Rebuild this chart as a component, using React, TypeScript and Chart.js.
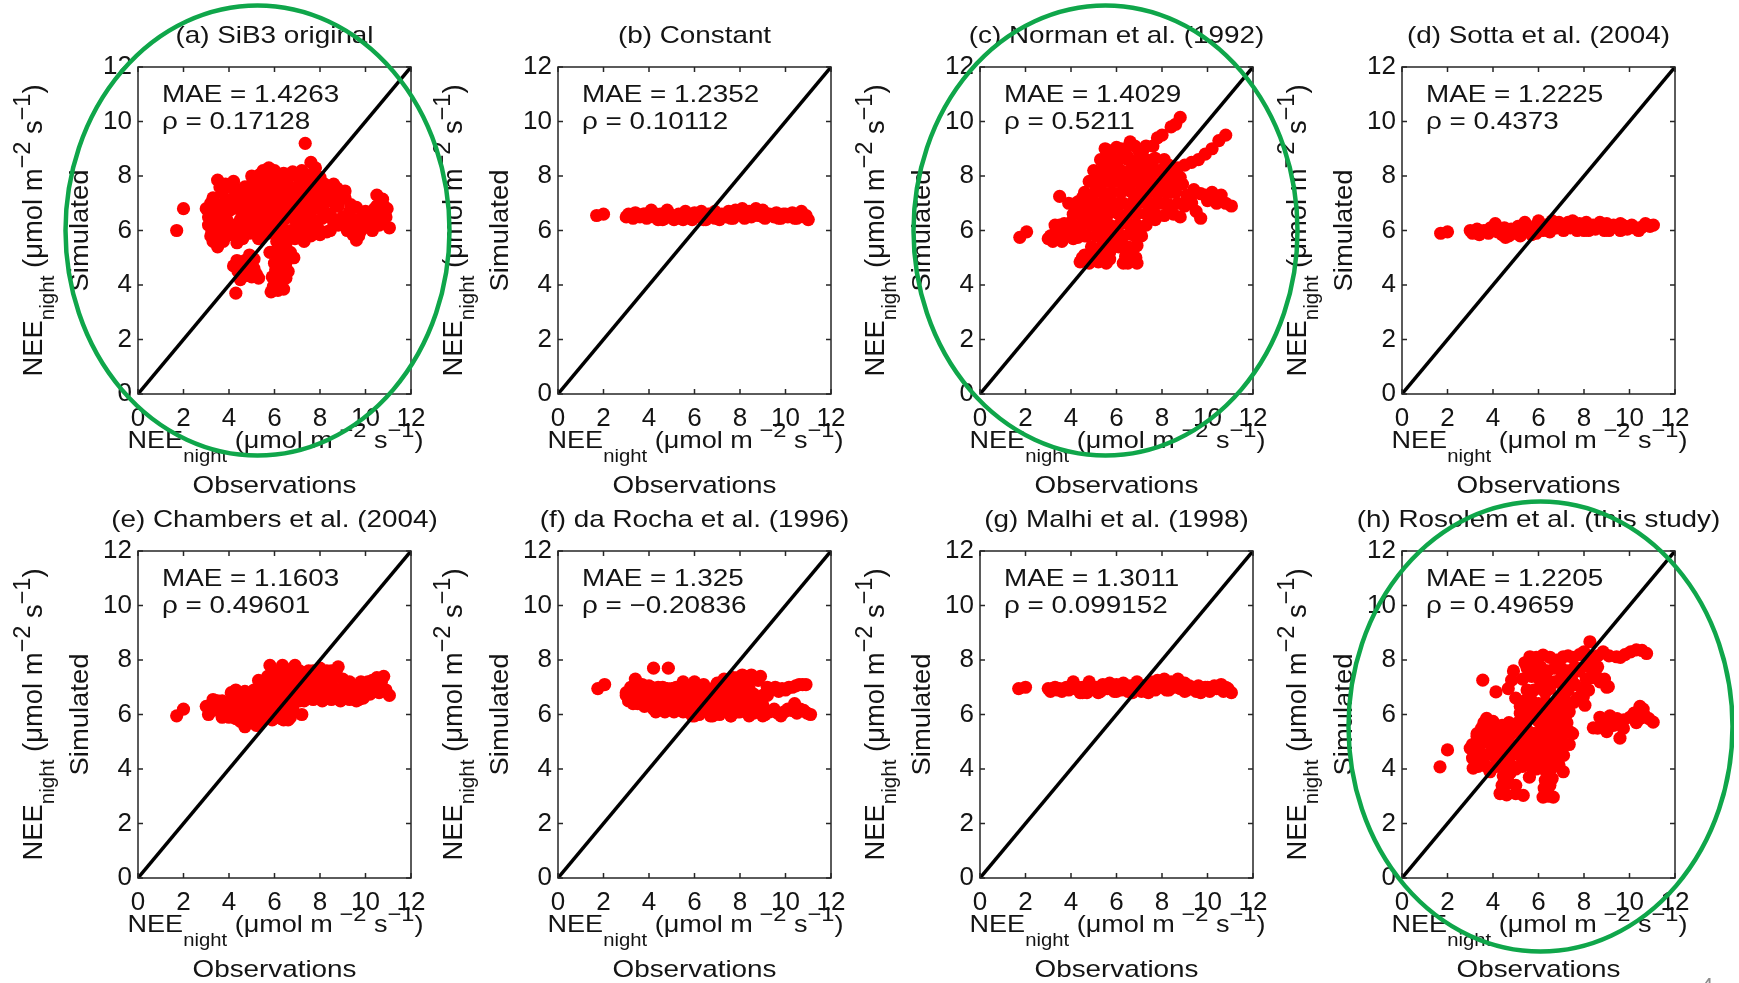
import React, { useEffect, useRef } from 'react';
import { Chart, registerables } from 'chart.js';

Chart.register(...registerables);

// ---------------- data ----------------
const axisMin = 0;
const axisMax = 12;
const tickValues = [0, 2, 4, 6, 8, 10, 12];
const diagonal = [0, 12];

const titles = [
  '(a) SiB3 original',
  '(b) Constant',
  '(c) Norman et al. (1992)',
  '(d) Sotta et al. (2004)',
  '(e) Chambers et al. (2004)',
  '(f) da Rocha et al. (1996)',
  '(g) Malhi et al. (1998)',
  '(h) Rosolem et al. (this study)',
];
const maeValues = ['1.4263', '1.2352', '1.4029', '1.2225', '1.1603', '1.325', '1.3011', '1.2205'];
const rhoValues = ['0.17128', '0.10112', '0.5211', '0.4373', '0.49601', '\u22120.20836', '0.099152', '0.49659'];
const circled = [true, false, true, false, false, false, false, true];

// [observed, simulated]
const simA: [number, number][] = [
  [1.7, 6.0], [2.0, 6.8], [7.35, 9.2],
  [3.0, 6.8], [3.1, 6.2], [3.2, 5.8], [3.3, 7.2], [3.5, 7.85], [3.4, 6.6], [3.5, 5.4], [3.6, 6.1], [3.7, 7.4], [3.8, 6.9], [3.9, 6.4], [4.0, 7.6], [4.1, 7.0], [4.2, 6.2], [3.3, 5.6], [3.9, 5.8], [4.35, 5.55], [4.4, 6.8], [4.5, 7.3], [3.6, 7.6],
  [3.2, 7.0], [3.35, 6.35], [3.55, 6.85], [3.7, 6.55], [3.75, 5.6], [3.85, 7.15], [4.0, 6.1], [4.05, 6.75], [4.25, 7.25], [4.2, 7.8], [3.85, 7.7], [4.3, 5.9], [3.1, 6.5], [3.5, 6.0], [3.25, 5.95], [4.6, 5.7], [3.6, 5.8], [3.4, 6.95],
  [5.2, 7.9], [5.5, 8.2], [5.75, 8.3], [6.0, 8.2], [6.4, 8.1], [6.8, 8.15], [7.2, 8.2], [7.6, 8.5], [7.8, 8.3],
  [5.0, 8.0], [5.35, 8.05], [5.65, 7.95], [6.2, 8.0], [6.6, 7.95], [7.0, 8.0], [7.4, 8.05], [7.7, 8.0], [8.0, 7.95],
  [4.7, 7.6], [5.0, 7.7], [5.4, 7.8], [5.9, 7.7], [6.3, 7.8], [6.7, 7.6], [7.1, 7.7], [7.5, 7.8], [7.9, 7.6], [8.2, 7.7],
  [4.4, 7.5], [4.8, 7.45], [5.15, 7.5], [5.5, 7.55], [5.8, 7.45], [6.2, 7.5], [6.55, 7.45], [6.9, 7.5], [7.25, 7.45], [7.6, 7.5], [8.0, 7.45], [8.4, 7.5], [8.75, 7.55], [9.1, 7.45],
  [4.6, 7.1], [4.9, 7.2], [5.3, 7.3], [5.7, 7.2], [6.1, 7.3], [6.5, 7.2], [6.9, 7.3], [7.3, 7.2], [7.7, 7.1], [8.1, 7.2], [8.5, 7.3], [8.9, 7.4],
  [4.4, 7.0], [4.75, 6.9], [5.1, 6.95], [5.45, 7.0], [5.8, 6.95], [6.2, 7.0], [6.6, 6.95], [7.0, 7.0], [7.4, 6.9], [7.8, 6.95], [8.2, 7.0], [8.6, 7.05], [9.35, 6.95],
  [4.8, 6.6], [5.2, 6.7], [5.6, 6.8], [6.0, 6.6], [6.4, 6.7], [6.8, 6.8], [7.2, 6.6], [7.6, 6.7], [8.0, 6.8], [8.4, 6.6], [8.8, 6.9], [9.1, 7.2],
  [3.4, 6.35], [4.5, 6.4], [4.9, 6.35], [5.3, 6.45], [5.7, 6.5], [6.1, 6.4], [6.5, 6.45], [6.9, 6.4], [7.3, 6.45], [7.7, 6.4], [8.1, 6.45], [8.5, 6.5], [8.9, 6.4], [9.3, 6.3], [9.7, 6.3], [10.0, 6.2], [10.3, 6.0], [10.7, 6.5],
  [4.7, 6.1], [5.1, 6.2], [5.5, 6.3], [5.9, 6.1], [6.3, 6.2], [6.7, 6.0], [7.1, 6.2], [7.5, 6.3], [7.9, 6.1], [8.3, 5.95],
  [4.9, 5.9], [5.3, 6.0], [5.7, 5.9], [6.1, 6.0], [6.5, 5.8], [6.9, 5.95], [7.3, 5.9], [7.7, 6.0], [8.0, 5.85],
  [5.3, 5.7], [6.1, 5.6], [6.5, 5.5], [6.9, 5.7], [7.3, 5.6], [7.6, 5.8],
  [4.3, 3.7], [4.2, 4.7], [4.4, 4.5], [4.5, 4.2], [4.7, 4.9], [4.9, 5.1], [5.1, 4.6], [5.3, 4.25], [5.0, 4.3], [5.85, 3.75], [5.9, 4.3], [6.0, 4.8], [6.2, 5.1], [6.4, 3.85], [6.5, 4.25], [6.5, 4.8], [6.2, 4.5], [5.8, 5.2], [6.7, 5.2],
  [4.35, 4.9], [4.6, 4.6], [4.8, 4.35], [4.85, 4.75], [5.1, 4.95], [5.2, 4.4], [4.5, 4.45],
  [5.95, 3.95], [6.05, 4.55], [6.3, 4.25], [6.35, 4.65], [6.6, 4.5], [6.3, 5.0], [6.05, 5.25], [6.45, 5.35], [6.85, 5.0], [6.15, 3.8],
  [8.6, 6.3], [9.0, 6.5], [9.3, 6.7], [9.6, 5.65], [9.8, 6.0], [9.9, 6.6], [10.2, 6.4], [10.5, 7.3], [10.4, 6.8], [10.6, 6.2], [10.8, 6.9], [10.9, 6.5], [11.05, 6.1], [9.5, 6.4], [8.6, 7.7], [9.0, 7.2], [8.7, 6.9], [8.45, 6.0], [9.2, 6.0],
  [8.8, 6.2], [9.1, 6.3], [9.4, 6.2], [9.45, 5.85], [9.7, 5.8], [10.0, 6.7], [10.3, 6.7], [10.6, 6.6], [10.75, 7.15], [10.95, 6.8], [10.2, 6.1], [9.6, 6.85], [10.5, 6.9],
];

const simB: [number, number][] = [
  [1.7, 6.55], [2.0, 6.6],
  [3.0, 6.5], [3.1, 6.6], [3.3, 6.45], [3.4, 6.65], [3.6, 6.5], [3.8, 6.6], [3.9, 6.45], [4.1, 6.75], [4.2, 6.5], [4.4, 6.4], [4.5, 6.6], [4.7, 6.45], [4.8, 6.75], [5.0, 6.55], [5.1, 6.4], [5.3, 6.6], [5.4, 6.45], [5.6, 6.7], [5.7, 6.5], [5.9, 6.4], [6.0, 6.65], [6.2, 6.5], [6.3, 6.7], [6.5, 6.4], [6.6, 6.6], [6.8, 6.5], [6.9, 6.7], [7.1, 6.4], [7.2, 6.6], [7.4, 6.5], [7.5, 6.7], [7.7, 6.45], [7.8, 6.75], [8.0, 6.6], [8.1, 6.8], [8.2, 6.45], [8.4, 6.7], [8.5, 6.5], [8.7, 6.8], [8.8, 6.55], [9.0, 6.75], [9.1, 6.45], [9.3, 6.6], [9.5, 6.5], [9.6, 6.65], [9.8, 6.45], [9.9, 6.6], [10.1, 6.5], [10.3, 6.65], [10.4, 6.45], [10.6, 6.6], [10.7, 6.7], [10.8, 6.5], [11.0, 6.4],
  [3.2, 6.55], [3.5, 6.55], [3.75, 6.6], [4.0, 6.55], [4.3, 6.6], [4.6, 6.55], [4.9, 6.6], [5.2, 6.5], [5.5, 6.55], [5.8, 6.55], [6.1, 6.55], [6.4, 6.55], [6.7, 6.6], [7.0, 6.55], [7.3, 6.55], [7.6, 6.6], [7.9, 6.6], [8.3, 6.6], [8.6, 6.65], [8.9, 6.7], [9.2, 6.6], [9.4, 6.55], [9.7, 6.55], [10.0, 6.6], [10.2, 6.55], [10.5, 6.55], [10.9, 6.55],
  [4.6, 6.4], [5.5, 6.4], [6.4, 6.4], [6.9, 6.45], [7.6, 6.45], [8.3, 6.5], [9.0, 6.5], [9.7, 6.45], [10.5, 6.45],
];

const simC: [number, number][] = [
  [1.75, 5.75], [2.05, 5.95], [3.5, 7.25],
  [3.0, 5.7], [3.2, 5.6], [3.3, 5.9], [3.5, 6.2], [3.6, 5.6], [3.8, 5.9], [4.0, 6.3], [4.1, 5.7], [4.3, 6.0], [4.5, 6.5], [4.6, 5.8], [4.3, 6.9], [4.5, 7.2], [4.7, 6.9],
  [4.4, 4.85], [4.6, 5.1], [4.8, 4.8], [5.0, 5.3], [5.2, 4.85], [5.4, 5.6], [5.55, 4.8], [5.7, 5.2], [6.0, 5.5], [6.3, 4.8], [6.5, 4.8], [6.6, 5.25], [6.8, 5.4], [6.9, 4.8],
  [4.9, 6.3], [5.0, 6.9], [5.1, 7.5], [5.2, 8.0], [5.3, 6.0], [5.4, 8.5], [5.5, 7.2], [5.6, 6.6], [5.7, 8.8], [5.8, 7.8], [5.9, 6.1], [6.0, 8.3], [6.1, 7.0], [6.2, 9.0], [6.3, 6.4], [6.4, 7.6], [6.5, 8.7], [6.6, 9.25], [6.6, 5.9], [6.7, 8.0], [6.8, 7.2], [6.9, 6.6], [7.0, 8.9], [7.0, 6.0], [7.1, 7.7], [7.2, 8.4], [7.3, 9.1], [7.4, 6.9], [7.5, 7.9], [7.6, 8.6], [7.7, 6.4], [7.8, 7.4], [7.9, 8.2], [8.0, 9.5], [8.1, 7.0], [8.3, 8.0], [8.4, 7.4], [8.4, 9.8], [8.8, 10.15], [8.6, 9.9], [7.8, 9.4], [6.8, 9.1], [5.5, 9.0], [6.2, 5.6], [6.7, 6.2],
  [5.6, 8.95], [6.0, 9.05], [6.4, 9.0], [7.2, 9.0], [7.6, 9.1],
  [5.3, 8.6], [5.7, 8.55], [6.1, 8.6], [6.5, 8.6], [6.9, 8.55], [7.3, 8.6], [7.7, 8.65], [8.1, 8.6],
  [5.0, 8.2], [5.4, 8.15], [5.8, 8.2], [6.2, 8.2], [6.6, 8.2], [7.0, 8.15], [7.4, 8.2], [7.8, 8.2], [8.2, 8.25],
  [4.8, 7.8], [5.2, 7.75], [5.6, 7.8], [6.0, 7.8], [6.4, 7.85], [6.8, 7.8], [7.2, 7.8], [7.6, 7.75], [8.0, 7.8], [8.4, 7.85],
  [4.6, 7.4], [5.0, 7.35], [5.4, 7.4], [5.8, 7.4], [6.2, 7.4], [6.6, 7.45], [7.0, 7.4], [7.4, 7.4], [7.8, 7.35], [8.2, 7.4], [8.6, 7.4],
  [3.9, 7.0], [4.3, 7.05], [4.7, 7.0], [5.1, 7.0], [5.5, 6.95], [5.9, 7.0], [6.3, 7.0], [6.7, 7.0], [7.1, 7.05], [7.5, 7.0], [7.9, 7.0], [8.3, 6.95], [8.7, 7.0],
  [4.1, 6.6], [4.5, 6.65], [4.9, 6.6], [5.3, 6.6], [5.7, 6.65], [6.1, 6.6], [6.5, 6.6], [6.9, 6.65], [7.3, 6.6], [7.7, 6.6], [8.1, 6.55],
  [3.3, 6.2], [3.7, 6.25], [4.1, 6.2], [4.5, 6.2], [4.9, 6.2], [5.3, 6.25], [5.7, 6.2], [6.1, 6.2], [6.5, 6.25], [6.9, 6.2], [7.3, 6.2],
  [3.1, 5.8], [3.5, 5.85], [3.9, 5.8], [4.3, 5.75], [4.7, 5.8], [5.1, 5.8], [5.5, 5.85], [5.9, 5.8], [6.3, 5.8], [6.7, 5.85], [7.1, 5.8],
  [4.9, 5.4], [5.3, 5.35], [5.7, 5.45], [6.1, 5.4], [6.5, 5.4], [6.9, 5.45],
  [4.5, 5.0], [4.9, 5.05], [5.3, 5.0], [5.7, 4.95], [6.4, 5.05], [6.85, 5.0],
  [8.7, 8.3], [9.0, 8.4], [9.3, 8.5], [9.6, 8.6], [9.9, 8.8], [10.2, 9.0], [10.5, 9.3], [10.8, 9.5],
  [8.6, 7.6], [8.9, 7.7], [9.1, 7.3], [9.4, 7.5], [9.7, 7.35], [10.0, 7.1], [10.3, 7.2], [10.6, 7.3], [10.8, 7.0], [11.05, 6.9], [9.7, 6.45], [9.5, 6.7], [8.5, 6.6], [9.0, 6.9], [8.2, 7.6], [10.4, 7.0],
  [8.3, 8.4], [8.5, 8.0], [8.8, 7.95], [9.25, 7.1], [9.9, 7.3], [10.2, 7.4], [8.8, 6.5], [9.3, 7.0], [8.3, 6.7],
];

const simD: [number, number][] = [
  [1.7, 5.9], [2.0, 5.95],
  [3.0, 6.0], [3.1, 5.9], [3.3, 6.05], [3.4, 5.85], [3.6, 6.0], [3.8, 5.9], [3.9, 6.1], [4.1, 6.25], [4.2, 5.95], [4.4, 5.85], [4.5, 6.1], [4.7, 5.8], [4.8, 6.05], [5.0, 5.9], [5.1, 6.15], [5.3, 5.95], [5.4, 6.3], [5.6, 6.0], [5.7, 5.85], [5.9, 6.2], [6.0, 6.35], [6.2, 6.0], [6.3, 6.2], [6.5, 5.95], [6.6, 6.35], [6.8, 6.1], [6.9, 6.3], [7.1, 6.0], [7.2, 6.2], [7.4, 6.1], [7.5, 6.35], [7.7, 6.0], [7.8, 6.25], [8.0, 6.1], [8.1, 6.3], [8.2, 6.0], [8.4, 6.2], [8.5, 6.05], [8.7, 6.3], [8.8, 6.1], [9.0, 6.25], [9.1, 6.0], [9.3, 6.2], [9.5, 6.1], [9.6, 6.25], [9.8, 6.15], [9.9, 6.05], [10.1, 6.2], [10.3, 6.1], [10.4, 6.0], [10.6, 6.15], [10.7, 6.25], [10.9, 6.15], [11.05, 6.2],
  [3.2, 5.95], [3.5, 5.95], [3.75, 6.0], [4.0, 6.0], [4.3, 6.05], [4.6, 5.95], [4.9, 6.0], [5.2, 6.05], [5.5, 6.1], [5.8, 6.05], [6.1, 6.15], [6.4, 6.1], [6.7, 6.2], [7.0, 6.15], [7.3, 6.15], [7.6, 6.2], [7.9, 6.15], [8.3, 6.1], [8.6, 6.15], [8.9, 6.2], [9.2, 6.1], [9.4, 6.15], [9.7, 6.2], [10.0, 6.1], [10.2, 6.1], [10.5, 6.1], [10.8, 6.2],
  [4.55, 5.75], [5.2, 5.8], [5.9, 5.9], [6.5, 6.25], [7.3, 6.3], [8.0, 6.0], [8.9, 6.0], [9.6, 6.0],
];

const simE: [number, number][] = [
  [1.7, 5.95], [2.0, 6.2],
  [3.0, 6.3], [3.1, 6.0], [3.3, 6.15], [3.5, 6.5], [3.6, 6.2], [3.7, 5.9], [3.9, 6.4], [4.1, 6.8], [4.2, 6.1], [4.3, 6.5], [4.5, 5.75], [4.6, 6.3], [4.7, 5.55], [4.8, 6.6], [4.9, 5.9], [5.0, 6.2], [5.1, 6.8], [5.2, 5.6], [5.3, 6.4], [5.4, 7.1], [5.5, 6.0], [5.6, 6.7], [5.7, 7.4], [5.8, 6.3], [5.9, 5.8], [6.0, 7.0], [6.1, 6.6], [6.2, 7.5], [6.3, 6.1], [6.35, 7.8], [6.4, 5.8], [6.5, 6.9], [6.6, 7.3], [6.7, 6.4], [6.8, 7.6], [6.9, 6.8], [7.0, 7.2], [7.1, 6.5], [7.2, 6.0], [7.3, 7.5], [7.4, 6.9], [7.5, 7.3], [7.6, 6.6], [7.7, 7.6], [7.9, 7.0], [8.0, 7.7], [8.1, 6.75], [8.2, 7.3], [8.4, 6.6], [8.5, 7.6], [8.6, 7.0], [8.8, 7.75], [8.9, 6.9], [9.0, 7.3], [9.2, 6.6], [9.4, 7.0], [9.6, 6.5], [9.7, 7.1], [9.9, 6.6], [10.1, 7.2], [10.2, 6.75], [10.4, 7.0], [10.5, 7.35], [10.6, 6.8], [10.8, 7.4], [10.9, 6.9], [11.05, 6.7], [6.6, 5.8], [5.8, 7.8], [6.9, 7.8], [5.3, 5.6], [4.0, 5.9],
  [5.9, 7.6], [6.3, 7.6], [6.7, 7.65], [7.1, 7.6], [7.5, 7.6], [7.9, 7.55], [8.3, 7.6], [8.7, 7.55],
  [5.3, 7.25], [5.7, 7.2], [6.1, 7.25], [6.5, 7.25], [6.9, 7.2], [7.3, 7.25], [7.7, 7.25], [8.1, 7.2], [8.5, 7.25], [9.3, 7.2], [9.8, 7.2], [10.3, 7.25], [10.7, 7.2],
  [4.3, 6.9], [4.7, 6.85], [5.1, 6.9], [5.5, 6.9], [5.9, 6.85], [6.3, 6.9], [6.7, 6.9], [7.1, 6.85], [7.5, 6.9], [7.9, 6.9], [8.3, 6.9], [8.7, 6.85], [9.1, 6.9], [9.5, 6.85], [9.9, 6.9], [10.3, 6.85], [10.7, 6.95],
  [3.3, 6.55], [3.7, 6.5], [4.1, 6.55], [4.5, 6.55], [4.9, 6.5], [5.3, 6.55], [5.7, 6.55], [6.1, 6.5], [6.5, 6.55], [6.9, 6.55], [7.3, 6.5], [7.7, 6.55], [8.1, 6.5], [8.5, 6.55], [8.9, 6.5], [9.3, 6.55], [9.7, 6.55],
  [3.2, 6.2], [3.6, 6.2], [4.0, 6.2], [4.4, 6.15], [4.8, 6.2], [5.2, 6.2], [5.6, 6.15], [6.0, 6.2], [6.4, 6.2], [6.8, 6.2],
  [4.3, 5.85], [4.7, 5.85], [5.1, 5.8], [5.5, 5.85], [5.9, 5.85], [6.3, 5.85], [6.7, 5.9],
];

const simF: [number, number][] = [
  [1.75, 6.95], [2.05, 7.1], [4.2, 7.7], [4.85, 7.7],
  [3.0, 6.8], [3.1, 6.5], [3.3, 6.9], [3.4, 7.3], [3.5, 6.4], [3.6, 6.7], [3.7, 7.1], [3.8, 6.3], [3.9, 6.9], [4.0, 6.5], [4.1, 7.0], [4.2, 6.2], [4.3, 6.75], [4.5, 6.45], [4.6, 7.0], [4.7, 6.2], [4.8, 6.7], [5.0, 6.95], [5.0, 6.4], [5.2, 6.6], [5.3, 6.2], [5.4, 6.9], [5.5, 7.2], [5.6, 6.45], [5.7, 6.1], [5.8, 6.8],
  [5.9, 5.95], [6.0, 7.2], [6.1, 6.4], [6.2, 6.0], [6.3, 6.8], [6.4, 7.1], [6.5, 6.2], [6.6, 6.55], [6.7, 5.95], [6.8, 6.9], [6.9, 6.35], [7.0, 7.15], [7.1, 6.0], [7.2, 6.6], [7.3, 7.3], [7.4, 6.3], [7.5, 6.9], [7.6, 5.95], [7.7, 7.35], [7.8, 6.5], [7.9, 7.1], [8.0, 6.1], [8.1, 7.45], [8.2, 6.7], [8.3, 7.2], [8.4, 6.3], [8.5, 7.45], [8.6, 6.05], [8.7, 7.3], [8.8, 6.6], [8.9, 7.4], [9.0, 6.35], [9.1, 6.0], [9.2, 6.7],
  [7.6, 7.3], [7.9, 7.35], [8.2, 7.4], [8.8, 7.25],
  [3.2, 7.0], [3.6, 7.0], [4.0, 7.05], [4.4, 7.0], [4.8, 6.95], [5.2, 7.0], [5.6, 7.0], [6.0, 6.95], [6.4, 6.9], [6.8, 6.95], [7.2, 7.0], [7.6, 7.0], [8.0, 7.0], [8.4, 6.95], [9.2, 7.0],
  [3.0, 6.7], [3.4, 6.65], [3.8, 6.7], [4.2, 6.7], [4.6, 6.7], [5.0, 6.7], [5.4, 6.65], [5.8, 6.7], [6.2, 6.65], [6.6, 6.7], [7.0, 6.7], [7.4, 6.65], [7.8, 6.7], [8.6, 6.75], [9.0, 6.7],
  [3.3, 6.4], [3.7, 6.4], [4.1, 6.4], [4.5, 6.35], [4.9, 6.4], [5.3, 6.4], [5.7, 6.4], [6.1, 6.4], [6.5, 6.4], [6.9, 6.45], [7.3, 6.4], [7.7, 6.4], [8.1, 6.4], [8.5, 6.4], [8.9, 6.4],
  [4.3, 6.1], [4.7, 6.1], [5.1, 6.1], [5.5, 6.1], [5.9, 6.1], [6.3, 6.1], [6.7, 6.15], [7.1, 6.1], [7.5, 6.1], [7.9, 6.1], [8.3, 6.1], [8.7, 6.15], [9.2, 6.1],
  [6.0, 5.95], [6.8, 5.95], [7.6, 5.95], [8.4, 5.95], [9.0, 5.95],
  [9.4, 6.9], [9.7, 6.85], [10.0, 6.9], [10.3, 7.0], [10.6, 7.1], [10.9, 7.1],
  [9.55, 7.0], [9.85, 6.95], [10.15, 7.0], [10.45, 7.05], [10.75, 7.1],
  [9.5, 6.2], [9.8, 5.95], [10.1, 6.2], [10.4, 6.4], [10.5, 6.05], [10.8, 6.15], [11.1, 6.0], [9.3, 6.1],
  [9.65, 6.05], [9.95, 6.1], [10.25, 6.15], [10.65, 6.2], [10.95, 6.05],
];

const simG: [number, number][] = [
  [1.7, 6.95], [2.0, 7.0],
  [3.0, 6.95], [3.1, 6.85], [3.3, 7.0], [3.4, 6.9], [3.6, 6.85], [3.8, 7.0], [3.9, 6.9], [4.1, 7.2], [4.2, 6.95], [4.4, 6.8], [4.5, 7.0], [4.7, 6.8], [4.8, 7.2], [5.0, 6.9], [5.1, 7.0], [5.3, 6.85], [5.4, 7.1], [5.6, 6.95], [5.7, 7.15], [5.9, 6.85], [6.0, 7.1], [6.2, 6.9], [6.3, 7.15], [6.5, 6.85], [6.6, 7.05], [6.8, 6.9], [6.9, 7.2], [7.1, 6.85], [7.2, 7.05], [7.4, 6.95], [7.5, 7.2], [7.7, 6.9], [7.8, 7.25], [8.0, 7.0], [8.1, 7.3], [8.2, 6.9], [8.4, 7.2], [8.5, 7.0], [8.7, 7.3], [8.8, 6.95], [9.0, 7.15], [9.1, 6.9], [9.3, 7.0], [9.5, 6.85], [9.6, 7.05], [9.8, 6.9], [9.9, 7.0], [10.1, 6.85], [10.3, 7.05], [10.4, 6.95], [10.6, 7.1], [10.7, 6.85], [10.8, 7.0], [11.05, 6.8],
  [3.2, 6.95], [3.5, 6.95], [3.75, 6.95], [4.0, 7.0], [4.3, 7.0], [4.6, 6.95], [4.9, 7.0], [5.2, 7.0], [5.5, 7.0], [5.8, 7.0], [6.1, 7.0], [6.4, 7.0], [6.7, 7.0], [7.0, 7.0], [7.3, 7.05], [7.6, 7.05], [7.9, 7.1], [8.3, 7.05], [8.6, 7.1], [8.9, 7.1], [9.2, 7.05], [9.4, 7.0], [9.7, 6.95], [10.0, 7.0], [10.2, 7.0], [10.5, 7.0], [10.9, 6.95],
  [4.5, 6.8], [5.2, 6.8], [6.0, 6.85], [6.7, 6.8], [7.4, 6.8], [8.3, 6.9], [9.0, 6.85], [9.7, 6.8],
];

const simH: [number, number][] = [
  [1.67, 4.08], [2.0, 4.7], [3.55, 7.26], [4.13, 6.83], [4.67, 6.95], [4.82, 7.26], [3.72, 5.86],
  [3.0, 4.76], [3.1, 4.4], [3.13, 4.03], [3.3, 5.2], [3.4, 4.7], [3.5, 5.5], [3.6, 4.2], [3.7, 5.0], [3.87, 3.9], [3.9, 4.6], [4.0, 5.4], [4.1, 4.1], [4.2, 5.0], [4.3, 4.5], [4.4, 5.6], [4.5, 3.6], [4.6, 4.9], [4.7, 4.3], [4.8, 5.3], [5.0, 4.0], [5.1, 4.7], [5.2, 5.7], [5.3, 4.3], [5.5, 5.0], [5.6, 3.7], [5.7, 4.4], [5.8, 5.3], [5.9, 4.0],
  [4.31, 3.1], [4.6, 3.05], [5.0, 3.1], [5.33, 3.03], [6.2, 2.97], [6.45, 3.0], [6.65, 2.97], [6.3, 3.59], [6.5, 3.4], [7.09, 3.9], [6.4, 3.2],
  [4.4, 3.4], [4.7, 3.5], [5.0, 3.4], [4.45, 3.75], [4.75, 3.85], [6.25, 3.3], [6.6, 3.65], [6.3, 3.95], [6.6, 4.05],
  [5.5, 6.1], [5.6, 6.7], [5.62, 8.12], [5.7, 7.4], [5.8, 5.9], [5.9, 7.8], [6.0, 6.4], [6.0, 4.9], [6.1, 7.1], [6.2, 8.18], [6.2, 5.5], [6.3, 6.8], [6.4, 4.6], [6.4, 7.6], [6.5, 5.9], [6.6, 6.3], [6.7, 7.2], [6.7, 5.0], [6.8, 8.0], [6.9, 4.7], [6.9, 6.6], [7.0, 5.6], [7.09, 8.12], [7.1, 7.0], [7.2, 6.0], [7.2, 4.9], [7.3, 7.6], [7.4, 6.4], [7.5, 5.3], [7.5, 8.1], [7.6, 7.1], [7.7, 6.6], [7.8, 7.6], [7.97, 6.65], [8.04, 6.34], [8.1, 7.8], [8.26, 8.67], [8.4, 8.1], [8.5, 7.5], [8.84, 8.3], [8.7, 7.2], [9.07, 7.02], [5.2, 6.3], [5.0, 6.6], [4.9, 7.6], [5.4, 7.9],
  [5.9, 8.1], [6.5, 8.1], [7.3, 8.15], [7.8, 8.2], [8.0, 8.3], [8.6, 8.15],
  [5.5, 7.7], [5.8, 7.7], [6.1, 7.75], [6.7, 7.7], [7.0, 7.7], [7.6, 7.75], [8.3, 7.7], [8.6, 7.75],
  [5.3, 7.3], [6.0, 7.35], [6.35, 7.3], [7.0, 7.35], [7.45, 7.3], [8.1, 7.3], [8.35, 7.35], [8.9, 7.3], [9.0, 7.0],
  [5.5, 6.9], [5.8, 6.9], [6.5, 6.95], [7.3, 6.9], [7.9, 6.95], [8.2, 6.9],
  [5.4, 6.5], [5.7, 6.5], [6.3, 6.45], [6.9, 6.5], [7.2, 6.5], [7.55, 6.45],
  [5.2, 6.05], [5.75, 6.1], [6.1, 6.1], [6.35, 6.15], [6.8, 6.1], [7.05, 6.2], [7.35, 6.1],
  [3.6, 5.7], [4.0, 5.75], [4.7, 5.7], [5.1, 5.7], [5.45, 5.7], [6.0, 5.75], [6.3, 5.7], [6.65, 5.65], [6.95, 5.75], [7.25, 5.7],
  [3.3, 5.3], [3.7, 5.35], [4.1, 5.3], [4.5, 5.3], [4.9, 5.35], [5.3, 5.3], [5.6, 5.35], [5.9, 5.3], [6.2, 5.25], [6.5, 5.3], [6.8, 5.3], [7.1, 5.3], [7.4, 5.35],
  [3.1, 4.9], [3.5, 4.95], [3.9, 4.9], [4.3, 4.9], [4.7, 4.95], [5.1, 4.9], [5.5, 4.9], [5.8, 4.9], [6.1, 4.95], [6.4, 4.9], [6.7, 4.9], [7.0, 4.95], [7.35, 4.9],
  [3.2, 4.5], [3.6, 4.5], [4.0, 4.5], [4.4, 4.55], [4.8, 4.5], [5.2, 4.5], [5.6, 4.55], [5.9, 4.5], [6.2, 4.5], [6.5, 4.5], [6.8, 4.55], [7.1, 4.5],
  [3.35, 4.1], [3.7, 4.1], [4.1, 4.1], [4.45, 4.15], [4.85, 4.1], [5.3, 4.1], [5.7, 4.1], [6.0, 4.15], [6.3, 4.1], [6.65, 4.1], [6.9, 4.15],
  [9.43, 8.12], [9.8, 8.2], [10.3, 8.37], [10.75, 8.24], [9.1, 8.15], [9.6, 8.1], [10.05, 8.3], [10.55, 8.35],
  [8.41, 5.51], [8.7, 5.9], [9.0, 5.37], [9.14, 5.95], [9.58, 5.13], [9.73, 5.49], [10.02, 5.9], [10.46, 6.3], [10.67, 5.96], [11.04, 5.72], [10.3, 5.7],
  [8.6, 5.5], [8.85, 5.7], [9.3, 5.6], [9.45, 5.85], [9.75, 5.8], [10.2, 6.05], [10.45, 5.85], [10.85, 5.85], [10.6, 6.2],
];

const panelPoints = [simA, simB, simC, simD, simE, simF, simG, simH];

// ---------------- layout ----------------
const FONT = '"Liberation Sans", Arial, Helvetica, sans-serif';
const PLOT_LEFTS = [138, 558, 980, 1402];
const PLOT_TOPS = [67, 551];
const PLOT_W = 273;
const PLOT_H = 327;
const CANVAS_W = 470;
const CANVAS_H = 499;
const ORIGIN_X = 138; // plot left inside canvas
const ORIGIN_Y = 67; // plot top inside canvas
const ELLIPSE_OFFSETS: Record<number, [number, number]> = { 0: [-17, 0], 2: [-11, 0], 7: [2, 12] };
const TEXT_COLOR = '#141414';

type Seg = { t: string; size: number; dy: number };

function drawStretched(ctx: CanvasRenderingContext2D, text: string, x: number, y: number, size: number, sx: number, align: CanvasTextAlign) {
  ctx.save();
  ctx.translate(x, y);
  ctx.scale(sx, 1);
  ctx.font = `${size}px ${FONT}`;
  ctx.textAlign = align;
  ctx.textBaseline = 'alphabetic';
  ctx.fillText(text, 0, 0);
  ctx.restore();
}

function drawRich(ctx: CanvasRenderingContext2D, segs: Seg[], cx: number, cy: number, rot: number, targetLen: number) {
  ctx.save();
  ctx.translate(cx, cy);
  ctx.rotate(rot);
  const widths = segs.map((s) => {
    ctx.font = `${s.size}px ${FONT}`;
    return ctx.measureText(s.t).width;
  });
  const total = widths.reduce((a, b) => a + b, 0);
  ctx.scale(targetLen / total, 1);
  ctx.textAlign = 'left';
  ctx.textBaseline = 'alphabetic';
  let x = -total / 2;
  segs.forEach((s, i) => {
    ctx.font = `${s.size}px ${FONT}`;
    ctx.fillText(s.t, x, s.dy);
    x += widths[i];
  });
  ctx.restore();
}

const xLabelSegs: Seg[] = [
  { t: 'NEE', size: 24, dy: 0 },
  { t: 'night', size: 18, dy: 14 },
  { t: ' (\u03bcmol m', size: 24, dy: 0 },
  { t: ' \u22122', size: 21, dy: -11 },
  { t: ' s', size: 24, dy: 0 },
  { t: '\u22121', size: 21, dy: -11 },
  { t: ')', size: 24, dy: 0 },
];
const yLabelSegs: Seg[] = [
  { t: 'NEE', size: 28, dy: 0 },
  { t: 'night', size: 21, dy: 12 },
  { t: ' (\u03bcmol m', size: 28, dy: 0 },
  { t: '\u22122', size: 24, dy: -12 },
  { t: ' s', size: 28, dy: 0 },
  { t: '\u22121', size: 24, dy: -12 },
  { t: ')', size: 28, dy: 0 },
];

const decorPlugin = {
  id: 'panelDecor',
  afterDatasetsDraw(chart: any, _args: any, opts: any) {
    const { ctx, chartArea: a, scales } = chart;
    const xs = scales.x;
    const ys = scales.y;
    const idx: number = opts.index;
    ctx.save();
    // box
    ctx.strokeStyle = '#262626';
    ctx.lineWidth = 1.5;
    ctx.strokeRect(a.left, a.top, a.right - a.left, a.bottom - a.top);
    // inward ticks on all sides
    ctx.beginPath();
    for (const v of tickValues) {
      const px = xs.getPixelForValue(v);
      const py = ys.getPixelForValue(v);
      ctx.moveTo(px, a.bottom); ctx.lineTo(px, a.bottom - 5);
      ctx.moveTo(px, a.top); ctx.lineTo(px, a.top + 5);
      ctx.moveTo(a.left, py); ctx.lineTo(a.left + 5, py);
      ctx.moveTo(a.right, py); ctx.lineTo(a.right - 5, py);
    }
    ctx.stroke();

    ctx.fillStyle = TEXT_COLOR;
    const cx = (a.left + a.right) / 2;
    const cy = (a.top + a.bottom) / 2;
    // title
    drawStretched(ctx, titles[idx], cx, a.top - 24, 24, 1.16, 'center');
    // stats
    drawStretched(ctx, `MAE = ${maeValues[idx]}`, a.left + 24, a.top + 35, 24, 1.16, 'left');
    drawStretched(ctx, `\u03c1 = ${rhoValues[idx]}`, a.left + 24, a.top + 62, 24, 1.16, 'left');
    // x labels
    drawRich(ctx, xLabelSegs, cx + 1, a.bottom + 54, 0, 296);
    drawStretched(ctx, 'Observations', cx, a.bottom + 99, 24, 1.16, 'center');
    // y labels
    drawRich(ctx, yLabelSegs, a.left - 96, cy, -Math.PI / 2, 292);
    ctx.save();
    ctx.translate(a.left - 50, cy);
    ctx.rotate(-Math.PI / 2);
    ctx.font = `25px ${FONT}`;
    const w = ctx.measureText('Simulated').width;
    ctx.scale(122 / w, 1);
    ctx.textAlign = 'center';
    ctx.textBaseline = 'alphabetic';
    ctx.fillText('Simulated', 0, 0);
    ctx.restore();

    ctx.restore();
  },
  afterDraw(chart: any, _args: any, opts: any) {
    const { ctx, chartArea: a } = chart;
    const idx: number = opts.index;
    const off = ELLIPSE_OFFSETS[idx];
    if (circled[idx] && off) {
      ctx.save();
      ctx.strokeStyle = '#0fa64a';
      ctx.lineWidth = 4.5;
      ctx.beginPath();
      ctx.ellipse((a.left + a.right) / 2 + off[0], (a.top + a.bottom) / 2 + off[1], 192, 225, 0, 0, Math.PI * 2);
      ctx.stroke();
      ctx.restore();
    }
    if (idx === 7) {
      ctx.save();
      ctx.fillStyle = '#8c8c8c';
      ctx.font = `22px ${FONT}`;
      ctx.textAlign = 'left';
      ctx.textBaseline = 'alphabetic';
      ctx.fillText('4', a.right + 26, a.bottom + 115);
      ctx.restore();
    }
  },
};

function Panel({ index }: { index: number }) {
  const ref = useRef<HTMLCanvasElement>(null);
  useEffect(() => {
    const canvas = ref.current;
    if (!canvas) return;
    const tickFont = { family: FONT, size: 26 };
    const chart = new Chart(canvas, {
      type: 'scatter',
      data: {
        datasets: [
          {
            data: diagonal.map((v) => ({ x: v, y: v })),
            showLine: true,
            borderColor: '#000000',
            borderWidth: 3.5,
            pointRadius: 0,
            order: 0,
          },
          {
            data: panelPoints[index].map(([x, y]) => ({ x, y })),
            backgroundColor: '#ff0000',
            borderWidth: 0,
            pointRadius: 6.6,
            pointHoverRadius: 6.6,
            order: 1,
          },
        ],
      } as any,
      options: {
        responsive: false,
        animation: false,
        events: [],
        layout: { padding: { left: 0, top: ORIGIN_Y, right: CANVAS_W - ORIGIN_X - PLOT_W, bottom: 0 } },
        plugins: {
          legend: { display: false },
          tooltip: { enabled: false },
          panelDecor: { index },
        } as any,
        scales: {
          x: {
            type: 'linear',
            min: axisMin,
            max: axisMax,
            grid: { display: false, drawTicks: false },
            border: { display: false },
            ticks: { stepSize: 2, font: tickFont, color: TEXT_COLOR, padding: 9, autoSkip: false, maxRotation: 0 },
            afterFit: (s: any) => { s.height = CANVAS_H - ORIGIN_Y - PLOT_H; },
          },
          y: {
            type: 'linear',
            min: axisMin,
            max: axisMax,
            grid: { display: false, drawTicks: false },
            border: { display: false },
            ticks: { stepSize: 2, font: tickFont, color: TEXT_COLOR, padding: 6, autoSkip: false },
            afterFit: (s: any) => { s.width = ORIGIN_X; },
          },
        },
      } as any,
      plugins: [decorPlugin as any],
    });
    return () => chart.destroy();
  }, [index]);
  const col = index % 4;
  const row = Math.floor(index / 4);
  return (
    <canvas
      ref={ref}
      width={CANVAS_W}
      height={CANVAS_H}
      style={{
        position: 'absolute',
        left: PLOT_LEFTS[col] - ORIGIN_X,
        top: PLOT_TOPS[row] - ORIGIN_Y,
        width: CANVAS_W,
        height: CANVAS_H,
        zIndex: circled[index] ? 2 : 1,
      }}
    />
  );
}

export default function App() {
  return (
    <div style={{ position: 'absolute', left: 0, top: 0, width: 1739, height: 983, background: '#ffffff', overflow: 'hidden' }}>
      {titles.map((_, i) => (
        <Panel key={i} index={i} />
      ))}
    </div>
  );
}
